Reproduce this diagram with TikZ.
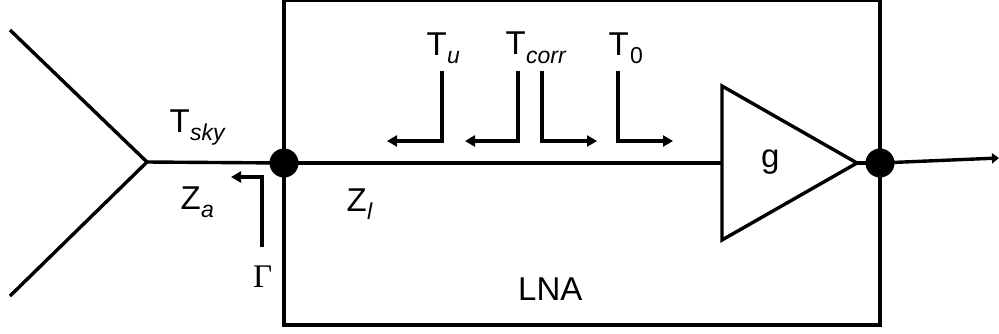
\documentclass[tikz,border=0pt]{standalone}
\usepackage{fontspec}
\setmainfont{Liberation Sans}
\newfontfamily\serifgreek{Liberation Serif}
\usetikzlibrary{arrows.meta}
\tikzset{
  wire/.style={line width=3.4pt,black},
  probe/.style={line width=3.3pt,black,-{Triangle[length=10pt,width=11pt]}},
  junction/.style={circle,fill=black,minimum size=29pt,inner sep=0pt},
  lbl/.style={anchor=base west,inner sep=0pt,font=\fontsize{33}{33}\selectfont},
  sub/.style={anchor=base west,inner sep=0pt,font=\fontsize{23}{23}\selectfont\itshape},
  subup/.style={anchor=base west,inner sep=0pt,font=\fontsize{23}{23}\selectfont},
}
\begin{document}
\begin{tikzpicture}[x=1pt,y=-1pt]
\useasboundingbox (0,0) rectangle (999,333);
\coordinate (yT) at (10,30);
\coordinate (yB) at (10,296);
\coordinate (yC) at (147,162);
\coordinate (out) at (999,158);
\coordinate (ampL) at (722,163);
% LNA box
\draw[wire] (284,0) rectangle (880,325);
% junctions
\node[junction] (jin) at (284,163) {};
\node[junction] (jout) at (880,163) {};
% antenna and lines
\draw[wire,line join=miter] (yT) -- (yC) -- (yB);
\draw[wire] (yC) -- (jin.center);
\draw[wire] (jin.center) -- (ampL);
\draw[wire,fill=white,line join=miter] (722,86) -- (722,240) -- (857,163) -- cycle;
\draw[wire] (857,163) -- (jout.center);
\draw[line width=3.4pt,-{Triangle[length=7pt,width=10pt]}] (jout.center) -- (out);
% probes
\draw[probe] (262,247) -- (262,177) -- (231,177);
\draw[probe] (442,71) -- (442,141) -- (387,141);
\draw[probe] (518,71) -- (518,141) -- (465,141);
\draw[probe] (542,71) -- (542,141) -- (597,141);
\draw[probe] (618,71) -- (618,141) -- (673,141);
% labels
\node[lbl] (tu) at (426.5,55) {T};
\node[sub] (tus) at (447,63) {u};
\node[lbl] (tc) at (505.5,54) {T};
\node[sub] (tcs) at (526,63) {corr};
\node[lbl] (t0) at (608.5,55) {T};
\node[subup] (t0s) at (630,63) {0};
\node[lbl] (ts) at (169.5,132) {T};
\node[sub] (tss) at (190,140) {sky};
\node[lbl] (za) at (180.5,209) {Z};
\node[sub] (zas) at (201,217) {a};
\node[lbl] (zl) at (346.5,211) {Z};
\node[sub] (zls) at (367,219) {l};
\node[anchor=base west,inner sep=0pt,font=\fontsize{33}{33}\selectfont\serifgreek] (gam) at (253,287) {Γ};
\node[lbl] (lna) at (518,300) {LNA};
\node[lbl] (g) at (761,167) {g};
\end{tikzpicture}
\end{document}
